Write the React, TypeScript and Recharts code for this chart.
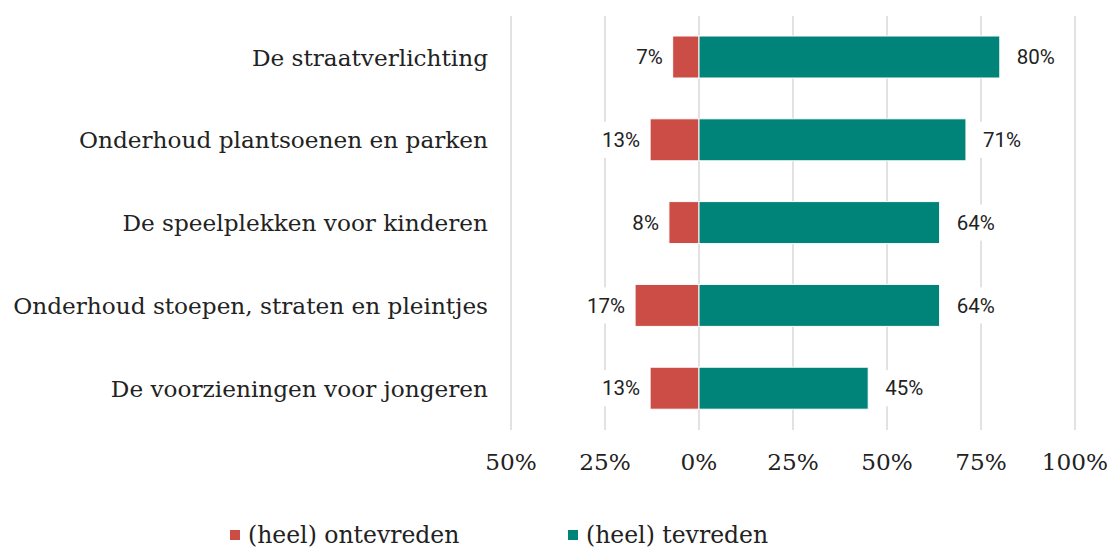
import { BarChart, Bar, XAxis, YAxis, CartesianGrid, Legend, LabelList } from 'recharts';

const categories = [
  'De straatverlichting',
  'Onderhoud plantsoenen en parken',
  'De speelplekken voor kinderen',
  'Onderhoud stoepen, straten en pleintjes',
  'De voorzieningen voor jongeren',
];
const ontevreden = [-7, -13, -8, -17, -13];
const tevreden = [80, 71, 64, 64, 45];
const xTicks = [-50, -25, 0, 25, 50, 75, 100];

const RED = '#CB4D45';
const TEAL = '#00847A';
const SERIF = '"DejaVu Serif", serif';

const data = categories.map((name, i) => ({
  name,
  ontevreden: ontevreden[i],
  tevreden: tevreden[i],
}));

function ValueLabel(props: any) {
  const { x, y, width, height, value } = props;
  const left = Math.min(x, x + width);
  const right = Math.max(x, x + width);
  const cy = y + height / 2;
  const text = Math.abs(value) + '%';
  const w = text.length * 13 + 6;
  const neg = value < 0;
  const tx = neg ? left - 10 : right + 17;
  const rx = neg ? tx - w + 3 : tx - 3;
  return (
    <g>
      <rect x={rx} y={cy - 18} width={w} height={36} fill="#fff" />
      <text
        x={tx}
        y={cy}
        dy="0.35em"
        textAnchor={neg ? 'end' : 'start'}
        fontFamily="Roboto, sans-serif"
        fontSize={20.5}
        fill="#222"
      >
        {text}
      </text>
    </g>
  );
}

function LegendContent() {
  const item = (color: string, label: string, left: number) => (
    <div style={{ position: 'absolute', left, top: 14, display: 'flex', alignItems: 'center', height: 22 }}>
      <span style={{ width: 10, height: 10, background: color, marginRight: 8, display: 'inline-block' }} />
      <span style={{ fontFamily: SERIF, fontSize: 23.5, color: '#222', whiteSpace: 'nowrap' }}>{label}</span>
    </div>
  );
  return (
    <div style={{ position: 'relative', width: 1109, height: 40 }}>
      {item(RED, '(heel) ontevreden', 230)}
      {item(TEAL, '(heel) tevreden', 568)}
    </div>
  );
}

export default function App() {
  return (
    <div style={{ position: 'absolute', left: 0, top: 0, background: '#fff' }}>
      <BarChart
        width={1109}
        height={550}
        data={data}
        layout="vertical"
        stackOffset="sign"
        margin={{ top: 16, right: 34, bottom: 0, left: 0 }}
        barSize={42}
      >
        <CartesianGrid horizontal={false} stroke="#d9d9d9" strokeWidth={1.5} />
        <XAxis
          type="number"
          domain={[-50, 100]}
          ticks={xTicks}
          tickFormatter={(v: number) => Math.abs(v) + '%'}
          axisLine={false}
          tickLine={false}
          tickSize={0}
          tickMargin={24}
          height={80}
          interval={0}
          tick={{ fontFamily: SERIF, fontSize: 23.2, fill: '#222' }}
        />
        <YAxis
          type="category"
          dataKey="name"
          width={511}
          axisLine={false}
          tickLine={false}
          tickSize={0}
          tickMargin={23}
          interval={0}
          tick={{ fontFamily: SERIF, fontSize: 23.2, fill: '#222' }}
        />
        <Legend verticalAlign="bottom" height={40} content={<LegendContent />} />
        <Bar dataKey="ontevreden" stackId="a" fill={RED} stroke="#fff" strokeWidth={1} isAnimationActive={false}>
          <LabelList dataKey="ontevreden" content={<ValueLabel />} />
        </Bar>
        <Bar dataKey="tevreden" stackId="a" fill={TEAL} stroke="#fff" strokeWidth={1} isAnimationActive={false}>
          <LabelList dataKey="tevreden" content={<ValueLabel />} />
        </Bar>
      </BarChart>
    </div>
  );
}
